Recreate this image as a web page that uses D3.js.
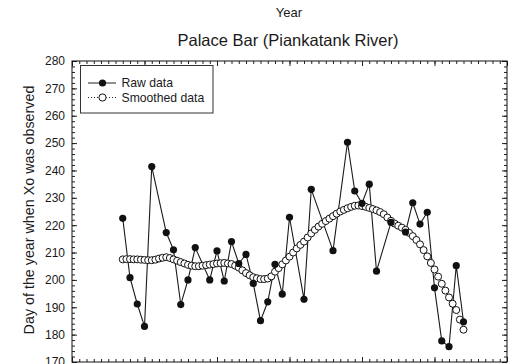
<!DOCTYPE html>
<meta charset="utf-8">
<script src="https://d3js.org/d3.v7.min.js"></script>
<style>
  body { margin: 0; background: #fff; overflow: hidden; }
  text { font-family: "Liberation Sans", Arial, sans-serif; fill: #1a1a1a; }
</style>
<div id="my_dataviz"></div>
<script>

// raw observations (year, day of year)
var rawYears = [1947, 1948, 1949, 1950, 1951, 1953, 1954, 1955, 1956, 1957,
                1959, 1960, 1961, 1962, 1963, 1964, 1965, 1966, 1967, 1968,
                1969, 1970, 1972, 1973, 1976, 1978, 1979, 1980, 1981, 1982,
                1984, 1986, 1987, 1988, 1989, 1990, 1991, 1992, 1993, 1994];
var rawDays = [222.5, 200.8, 191.2, 183, 241.4, 217.3, 211, 191, 200, 211.8,
               200, 210.6, 199.6, 214, 206, 209.3, 198.7, 185.1, 192, 205.7,
               194.8, 222.9, 192.9, 233.1, 210.7, 250.3, 232.5, 228, 235, 203.2,
               221, 217.5, 228.2, 220.4, 224.7, 197.1, 177.7, 175.6, 205.2, 184.7];

// smoothed curve, one value every half year from 1947 to 1994
var smoothYears = d3.range(1947, 1994.01, 0.5);
var smoothDays = [207.5, 207.6, 207.6, 207.5, 207.5, 207.4, 207.3, 207.2, 207.2, 207.4,
                  207.8, 208.1, 208.3, 208.0, 207.5, 207.0, 206.5, 206.0, 205.5, 205.2,
                  205.0, 205.0, 205.2, 205.4, 205.6, 205.8, 206.0, 206.1, 206.2, 206.0,
                  205.8, 205.2, 204.5, 203.5, 202.5, 201.7, 201.0, 200.6, 200.3, 200.3,
                  200.5, 201.3, 203.0, 204.3, 205.7, 207.1, 208.5, 210.0, 211.5, 212.8,
                  214.0, 215.5, 217.0, 218.3, 219.5, 220.5, 221.5, 222.4, 223.3, 224.2,
                  225.0, 225.6, 226.2, 226.7, 227.1, 227.2, 227.0, 226.7, 226.3, 225.9,
                  225.4, 224.8, 224.0, 222.8, 221.6, 220.6, 219.8, 219.1, 218.3, 217.2,
                  216.0, 214.6, 213.0, 210.9, 208.6, 206.2, 203.8, 201.2, 198.6, 196.1,
                  193.6, 191.3, 189.0, 185.5, 181.8];

var yMajor = d3.range(170, 281, 10);
var yMinor = d3.range(170, 281, 2);
var xMajor = d3.range(1940, 2001, 10);
var xMinor = d3.range(1940, 2001, 1);

var margin = {top: 61, right: 19, bottom: 2, left: 72},
    width = 526 - margin.left - margin.right,
    height = 364 - margin.top - margin.bottom;

var root = d3.select("#my_dataviz")
  .append("svg")
    .attr("width", 526)
    .attr("height", 364);

root.append("text")
  .attr("x", 289).attr("y", 16.5)
  .attr("text-anchor", "middle")
  .style("font-size", "13px")
  .text("Year");

root.append("text")
  .attr("x", 288).attr("y", 46)
  .attr("text-anchor", "middle")
  .style("font-size", "16.5px")
  .text("Palace Bar (Piankatank River)");

root.append("text")
  .attr("transform", "translate(29,210) rotate(-90)")
  .attr("text-anchor", "middle")
  .attr("dy", "0.35em")
  .style("font-size", "14.3px")
  .text("Day of the year when Xo was observed");

var svg = root.append("g")
  .attr("transform", "translate(" + margin.left + "," + margin.top + ")");

var x = d3.scaleLinear().domain([1940, 2000]).range([0, width]);
var y = d3.scaleLinear().domain([170, 280]).range([height, 0]);

function clean(g) {
  g.select(".domain").remove();
  g.selectAll(".tick line").attr("stroke", "#222");
}

// minor ticks
svg.append("g").call(d3.axisLeft(y).tickValues(yMinor).tickSize(-3).tickFormat("")).call(clean);
svg.append("g").attr("transform", "translate(" + width + ",0)")
  .call(d3.axisRight(y).tickValues(yMinor).tickSize(-3).tickFormat("")).call(clean);
svg.append("g").call(d3.axisTop(x).tickValues(xMinor).tickSize(-3).tickFormat("")).call(clean);
svg.append("g").attr("transform", "translate(0," + height + ")")
  .call(d3.axisBottom(x).tickValues(xMinor).tickSize(-3).tickFormat("")).call(clean);

// major ticks (the year labels under the frame fall outside the picture)
svg.append("g")
  .call(d3.axisLeft(y).tickValues(yMajor).tickSize(-5).tickPadding(7))
  .call(clean)
  .selectAll("text").style("font-size", "12px").attr("fill", "#1a1a1a");
svg.append("g").attr("transform", "translate(" + width + ",0)")
  .call(d3.axisRight(y).tickValues(yMajor).tickSize(-5).tickFormat("")).call(clean);
svg.append("g").call(d3.axisTop(x).tickValues(xMajor).tickSize(-5).tickFormat("")).call(clean);
svg.append("g").attr("transform", "translate(0," + height + ")")
  .call(d3.axisBottom(x).tickValues(xMajor).tickSize(-5).tickFormat("")).call(clean);

svg.append("rect")
  .attr("x", 0).attr("y", 0)
  .attr("width", width).attr("height", height)
  .attr("fill", "none")
  .attr("stroke", "#111")
  .attr("stroke-width", 1);

var raw = rawYears.map(function(d, i) { return {year: d, day: rawDays[i]}; });
var smooth = smoothYears.map(function(d, i) { return {year: d, day: smoothDays[i]}; });

var line = d3.line()
  .x(function(d) { return x(d.year); })
  .y(function(d) { return y(d.day); });

svg.append("path")
  .datum(raw)
  .attr("fill", "none")
  .attr("stroke", "#1a1a1a")
  .attr("stroke-width", 1.1)
  .attr("d", line);

svg.append("path")
  .datum(smooth)
  .attr("fill", "none")
  .attr("stroke", "#222")
  .attr("stroke-width", 1)
  .attr("stroke-dasharray", "1,2")
  .attr("d", line);

svg.append("g")
  .selectAll("circle")
  .data(smooth)
  .enter()
  .append("circle")
    .attr("cx", function(d) { return x(d.year); })
    .attr("cy", function(d) { return y(d.day); })
    .attr("r", 3.5)
    .attr("fill", "#fff")
    .attr("stroke", "#111")
    .attr("stroke-width", 1);

svg.append("g")
  .selectAll("circle")
  .data(raw)
  .enter()
  .append("circle")
    .attr("cx", function(d) { return x(d.year); })
    .attr("cy", function(d) { return y(d.day); })
    .attr("r", 3.6)
    .attr("fill", "#111");

// legend
var lg = root.append("g");
lg.append("rect")
  .attr("x", 80.5).attr("y", 65.5)
  .attr("width", 132.5).attr("height", 47.5)
  .attr("fill", "#fff")
  .attr("stroke", "#333")
  .attr("stroke-width", 1);

lg.append("line")
  .attr("x1", 88).attr("x2", 116).attr("y1", 83).attr("y2", 83)
  .attr("stroke", "#222");
lg.append("circle")
  .attr("cx", 102.5).attr("cy", 83).attr("r", 3.6).attr("fill", "#111");
lg.append("text")
  .attr("x", 121.5).attr("y", 87.2)
  .style("font-size", "12.2px")
  .text("Raw data");

lg.append("line")
  .attr("x1", 88).attr("x2", 116).attr("y1", 97.5).attr("y2", 97.5)
  .attr("stroke", "#222")
  .attr("stroke-dasharray", "1,2");
lg.append("circle")
  .attr("cx", 102.5).attr("cy", 97.5).attr("r", 3.6)
  .attr("fill", "#fff").attr("stroke", "#111");
lg.append("text")
  .attr("x", 121.5).attr("y", 101.7)
  .style("font-size", "12.2px")
  .text("Smoothed data");

</script>
